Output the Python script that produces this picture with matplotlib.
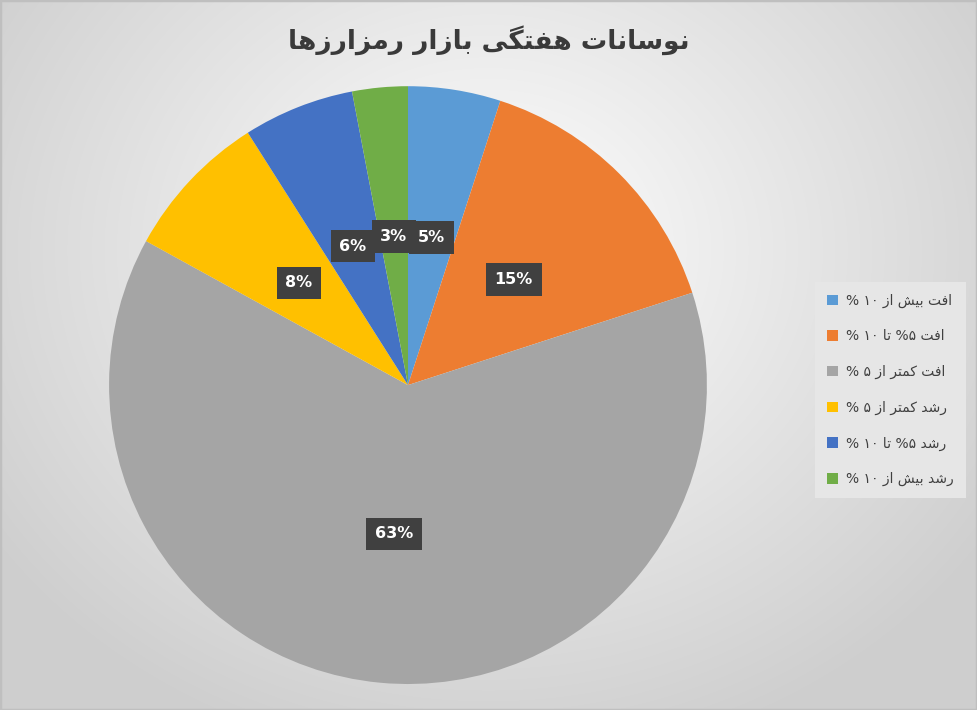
import re
import numpy as np
import matplotlib
matplotlib.use("Agg")
import matplotlib.pyplot as plt
from matplotlib.patches import Rectangle

# data
title = "نوسانات هفتگی بازار رمزارزها"
categories = ["افت بیش از ۱۰ %", "افت ۵% تا ۱۰ %", "افت کمتر از ۵ %",
              "رشد کمتر از ۵ %", "رشد ۵% تا ۱۰ %", "رشد بیش از ۱۰ %"]
shares = [5, 15, 63, 8, 6, 3]
colors = ["#5B9BD5", "#ED7D31", "#A5A5A5", "#FFC000", "#4472C4", "#70AD47"]

# matplotlib has no arabic shaping, so pick presentation forms by hand
# (isolated, final, initial, medial)
FORMS = {
    "ا": ("\uFE8D", "\uFE8E", None, None),
    "ب": ("\uFE8F", "\uFE90", "\uFE91", "\uFE92"),
    "ت": ("\uFE95", "\uFE96", "\uFE97", "\uFE98"),
    "د": ("\uFEA9", "\uFEAA", None, None),
    "ر": ("\uFEAD", "\uFEAE", None, None),
    "ز": ("\uFEAF", "\uFEB0", None, None),
    "س": ("\uFEB1", "\uFEB2", "\uFEB3", "\uFEB4"),
    "ش": ("\uFEB5", "\uFEB6", "\uFEB7", "\uFEB8"),
    "ف": ("\uFED1", "\uFED2", "\uFED3", "\uFED4"),
    "م": ("\uFEE1", "\uFEE2", "\uFEE3", "\uFEE4"),
    "ن": ("\uFEE5", "\uFEE6", "\uFEE7", "\uFEE8"),
    "ه": ("\uFEE9", "\uFEEA", "\uFEEB", "\uFEEC"),
    "و": ("\uFEED", "\uFEEE", None, None),
    "ک": ("\uFB8E", "\uFB8F", "\uFB90", "\uFB91"),
    "گ": ("\uFB92", "\uFB93", "\uFB94", "\uFB95"),
    "ی": ("\uFBFC", "\uFBFD", "\uFBFE", "\uFBFF"),
}


def rtl(s):
    out = []
    for i, ch in enumerate(s):
        if ch not in FORMS:
            out.append(ch)
            continue
        prev = s[i - 1] if i > 0 else ""
        nxt = s[i + 1] if i + 1 < len(s) else ""
        jp = prev in FORMS and FORMS[prev][2] is not None
        jn = FORMS[ch][2] is not None and nxt in FORMS
        iso, fin, ini, med = FORMS[ch]
        if jp and jn:
            out.append(med)
        elif jp:
            out.append(fin)
        elif jn:
            out.append(ini)
        else:
            out.append(iso)
    vis = "".join(out)[::-1]
    return re.sub("[۰-۹]+", lambda m: m.group(0)[::-1], vis)


plt.rcParams["font.family"] = ["DejaVu Sans"]

fig = plt.figure(figsize=(9.77, 7.1), dpi=100)

# radial gray background
bg = fig.add_axes([0, 0, 1, 1])
yy, xx = np.mgrid[0:710, 0:977]
d = np.sqrt(((xx - 488) / 600.0) ** 2 + ((yy - 250) / 520.0) ** 2)
g = 1.0 - 0.19 * np.clip(d, 0, 1)
bg.imshow(np.dstack([g, g, g]), aspect="auto", extent=[0, 1, 0, 1])
bg.add_patch(Rectangle((0, 0), 1, 1, transform=bg.transAxes, fill=False,
                       ec="#bfbfbf", lw=2.5))
bg.axis("off")

ax = fig.add_axes([0.1116, 0.0366, 0.612, 0.842])
wedges, texts, autotexts = ax.pie(
    shares, colors=colors, startangle=90, counterclock=False,
    autopct="%1.0f%%", pctdistance=0.5, radius=1.0,
    wedgeprops=dict(linewidth=0),
    textprops=dict(color="white", fontsize=11.5, fontweight="bold"))
for t in autotexts:
    t.set_bbox(dict(boxstyle="square,pad=0.55", fc="#404040", ec="none"))
ax.set_xlim(-1, 1)
ax.set_ylim(-1, 1)
ax.set_aspect("equal")

fig.text(0.5, 0.943, rtl(title), ha="center", va="center",
         fontsize=19, fontweight="bold", color="#3a3a3a")

leg = fig.legend(wedges, [rtl(c) for c in categories], loc="upper left",
                 bbox_to_anchor=(0.834, 0.603), borderaxespad=0,
                 frameon=True, fancybox=False,
                 facecolor="#e6e6e6", edgecolor="none", framealpha=1,
                 fontsize=10, labelcolor="#404040", handlelength=0.8,
                 handleheight=0.8, handletextpad=0.6, labelspacing=1.55,
                 borderpad=0.85)

fig.savefig("out.png", dpi=100)
